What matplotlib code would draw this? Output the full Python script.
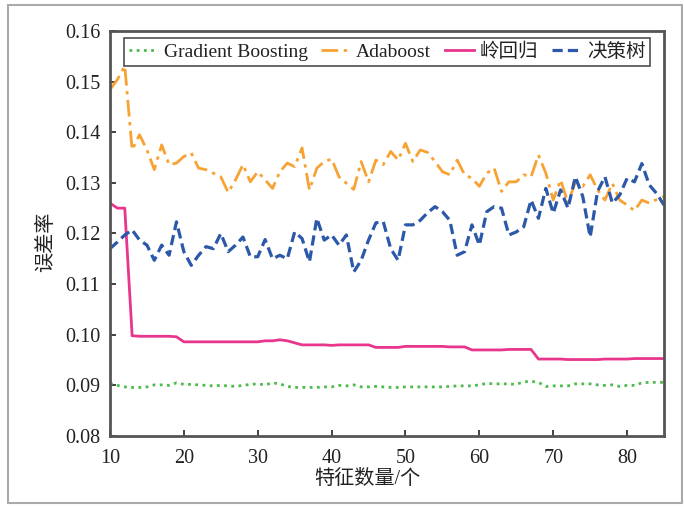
import matplotlib
matplotlib.use("Agg")
import matplotlib.pyplot as plt
from matplotlib.patches import Rectangle
import numpy as np

plt.rcParams['font.family'] = ['Liberation Serif', 'Noto Sans CJK SC', 'DejaVu Sans']
plt.rcParams['mathtext.fontset'] = 'stix'

features = list(range(10, 86))

gradient_boosting = [
    0.0904, 0.0900, 0.0897, 0.0896, 0.0896, 0.0897, 0.0901, 0.0901, 0.0900, 0.0905,
    0.0902, 0.0902, 0.0901, 0.0900, 0.0899, 0.0900, 0.0899, 0.0898, 0.0900, 0.0902,
    0.0903, 0.0901, 0.0905, 0.0903, 0.0898, 0.0896, 0.0896, 0.0896, 0.0896, 0.0897,
    0.0897, 0.0900, 0.0899, 0.0901, 0.0897, 0.0897, 0.0898, 0.0897, 0.0896, 0.0896,
    0.0897, 0.0897, 0.0897, 0.0897, 0.0897, 0.0897, 0.0898, 0.0899, 0.0899, 0.0899,
    0.0901, 0.0904, 0.0903, 0.0903, 0.0903, 0.0902, 0.0907, 0.0908, 0.0906, 0.0898,
    0.0899, 0.0899, 0.0899, 0.0903, 0.0903, 0.0903, 0.0901, 0.0900, 0.0901, 0.0898,
    0.0900, 0.0900, 0.0905, 0.0906, 0.0906, 0.0906,
]

adaboost = [
    0.1484, 0.1504, 0.1531, 0.1365, 0.1395, 0.1365, 0.1326, 0.1375, 0.1336, 0.1339,
    0.1352, 0.1359, 0.1329, 0.1326, 0.1319, 0.1312, 0.1281, 0.1306, 0.1336, 0.1302,
    0.1322, 0.1306, 0.1289, 0.1322, 0.1339, 0.1332, 0.1369, 0.1286, 0.1329, 0.1342,
    0.1347, 0.1312, 0.1299, 0.1287, 0.1342, 0.1302, 0.1345, 0.1336, 0.1362, 0.1345,
    0.1378, 0.1342, 0.1365, 0.1360, 0.1342, 0.1322, 0.1316, 0.1345, 0.1316, 0.1309,
    0.1293, 0.1319, 0.1329, 0.1283, 0.1302, 0.1302, 0.1316, 0.1312, 0.1355, 0.1319,
    0.1266, 0.1306, 0.1260, 0.1302, 0.1293, 0.1316, 0.1286, 0.1266, 0.1299, 0.1266,
    0.1256, 0.1245, 0.1266, 0.1260, 0.1267, 0.1273,
]

ridge = [
    0.1260, 0.1250, 0.1250, 0.0998, 0.0997, 0.0997, 0.0997, 0.0997, 0.0997, 0.0996,
    0.0986, 0.0986, 0.0986, 0.0986, 0.0986, 0.0986, 0.0986, 0.0986, 0.0986, 0.0986,
    0.0986, 0.0988, 0.0988, 0.0990, 0.0988, 0.0984, 0.0980, 0.0980, 0.0980, 0.0980,
    0.0979, 0.0980, 0.0980, 0.0980, 0.0980, 0.0980, 0.0975, 0.0975, 0.0975, 0.0975,
    0.0977, 0.0977, 0.0977, 0.0977, 0.0977, 0.0977, 0.0976, 0.0976, 0.0976, 0.0970,
    0.0970, 0.0970, 0.0970, 0.0970, 0.0971, 0.0971, 0.0971, 0.0971, 0.0952, 0.0952,
    0.0952, 0.0952, 0.0951, 0.0951, 0.0951, 0.0951, 0.0951, 0.0952, 0.0952, 0.0952,
    0.0952, 0.0953, 0.0953, 0.0953, 0.0953, 0.0953,
]

decision_tree = [
    0.1170, 0.1183, 0.1197, 0.1207, 0.1187, 0.1177, 0.1147, 0.1177, 0.1157, 0.1223,
    0.1164, 0.1137, 0.1157, 0.1174, 0.1170, 0.1200, 0.1164, 0.1177, 0.1193, 0.1154,
    0.1154, 0.1188, 0.1150, 0.1157, 0.1150, 0.1203, 0.1190, 0.1144, 0.1230, 0.1187,
    0.1197, 0.1177, 0.1197, 0.1124, 0.1147, 0.1187, 0.1221, 0.1223, 0.1170, 0.1147,
    0.1217, 0.1217, 0.1226, 0.1241, 0.1253, 0.1243, 0.1226, 0.1157, 0.1164, 0.1217,
    0.1177, 0.1243, 0.1253, 0.1250, 0.1197, 0.1203, 0.1213, 0.1266, 0.1230, 0.1289,
    0.1240, 0.1286, 0.1250, 0.1312, 0.1273, 0.1193, 0.1283, 0.1312, 0.1260, 0.1276,
    0.1309, 0.1302, 0.1338, 0.1296, 0.1279, 0.1256,
]

x_ticks = [10, 20, 30, 40, 50, 60, 70, 80]
y_ticks = [0.08, 0.09, 0.10, 0.11, 0.12, 0.13, 0.14, 0.15, 0.16]
y_tick_labels = ['0.08', '0.09', '0.10', '0.11', '0.12', '0.13', '0.14', '0.15', '0.16']

fig = plt.figure(figsize=(6.84, 5.07), dpi=100)
ax = fig.add_axes([0.1608, 0.140, 0.810, 0.799])

ax.plot(features, gradient_boosting, color='#4cbb4c', linestyle=(0, (1, 1.6)), linewidth=2.0, label='Gradient Boosting')
ax.plot(features, adaboost, color='#f7a233', linestyle=(0, (6, 2, 1.2, 2)), linewidth=2.0, label='Adaboost')
ax.plot(features, ridge, color='#e8368c', linestyle='-', linewidth=2.0, label='岭回归')
ax.plot(features, decision_tree, color='#2b58a8', linestyle=(0, (3.2, 1.6)), linewidth=2.3, label='决策树')

ax.set_xlim(10, 85)
ax.set_ylim(0.08, 0.16)
ax.set_xticks(x_ticks)
ax.set_xticklabels([str(t) for t in x_ticks])
ax.set_yticks(y_ticks)
ax.set_yticklabels(y_tick_labels)
ax.tick_params(direction='in', length=4, width=1.2, labelsize=14.5, colors='#222222')
ax.tick_params(axis='x', pad=9)
ax.tick_params(axis='y', pad=7)
for s in ax.spines.values():
    s.set_color('#555555')
    s.set_linewidth(2.0)

ax.set_xlabel('特征数量/个', fontsize=14.5, color='#222222')
ax.xaxis.set_label_coords((367 - 110) / 554, -0.083)
ax.set_ylabel('误差率', fontsize=14.5, color='#222222')
ax.yaxis.set_label_coords(-0.097, 0.48)

leg = ax.legend(loc='upper center', bbox_to_anchor=(0.50, 0.992), ncol=4, fontsize=14,
                frameon=True, fancybox=False, edgecolor='#222222', handlelength=1.5,
                handletextpad=0.3, columnspacing=0.7, borderpad=0.25, borderaxespad=0.2)
leg.get_frame().set_linewidth(1.2)
for t in leg.get_texts():
    t.set_color('#222222')

fig.patches.append(Rectangle((8 / 684, 4 / 507), 674 / 684, 498 / 507, transform=fig.transFigure,
                             fill=False, edgecolor='#aaaaaa', linewidth=1.5))

fig.savefig('out.png', dpi=100)
